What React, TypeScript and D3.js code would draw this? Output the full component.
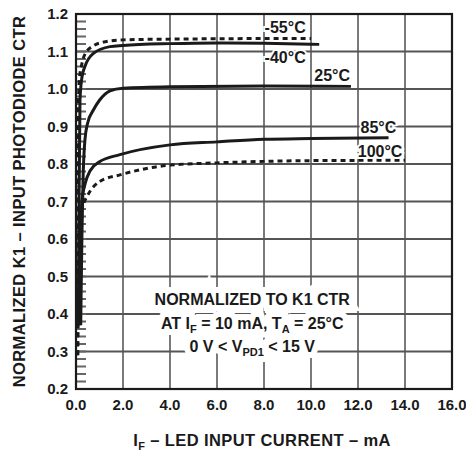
import * as d3 from "d3";

const X_TICKS = [0, 2, 4, 6, 8, 10, 12, 14, 16];
const Y_TICKS = [0.2, 0.3, 0.4, 0.5, 0.6, 0.7, 0.8, 0.9, 1.0, 1.1, 1.2];

// [I_F mA, normalized CTR]
const M55: [number, number][] = [[0.05, 0.29], [0.08, 0.6], [0.1, 0.95], [0.15, 1.03], [0.24, 1.064], [0.4, 1.095], [0.74, 1.115], [1.15, 1.125], [2, 1.131], [4, 1.133], [6, 1.134], [10, 1.135]];
const M40: [number, number][] = [[0.1, 0.37], [0.13, 0.7], [0.17, 0.97], [0.25, 1.03], [0.38, 1.06], [0.74, 1.095], [1.45, 1.113], [2, 1.116], [4, 1.121], [6, 1.123], [8, 1.122], [10.35, 1.119]];
const T25: [number, number][] = [[0.2, 0.37], [0.25, 0.6], [0.3, 0.76], [0.38, 0.864], [0.5, 0.91], [0.74, 0.944], [1, 0.97], [1.45, 0.995], [2, 1.002], [4, 1.006], [8, 1.008], [11.7, 1.007]];
const T85: [number, number][] = [[0.15, 0.37], [0.2, 0.6], [0.25, 0.7], [0.4, 0.75], [0.6, 0.782], [1, 0.806], [1.87, 0.825], [4, 0.851], [6, 0.859], [8, 0.866], [10, 0.868], [13.3, 0.87]];
const T100: [number, number][] = [[0.08, 0.29], [0.12, 0.55], [0.18, 0.66], [0.3, 0.69], [0.5, 0.717], [1, 0.753], [1.87, 0.771], [4, 0.797], [6, 0.803], [8, 0.807], [10, 0.809], [14, 0.81]];

const SERIES = [
  { name: "-55°C", data: M55, dashed: true, lx: 8.9, ly: 33 },
  { name: "-40°C", data: M40, dashed: false, lx: 8.9, ly: 63 },
  { name: "25°C", data: T25, dashed: false, lx: 10.9, ly: 81 },
  { name: "85°C", data: T85, dashed: false, lx: 12.87, ly: 133 },
  { name: "100°C", data: T100, dashed: true, lx: 12.94, ly: 157 },
];

const FONT = "Arial, 'Liberation Sans', sans-serif";
const INK = "#1a1a1a";

const W = 466, H = 453;
const mg = { l: 76, r: 14, t: 14, b: 64 };
const IW = W - mg.l - mg.r, IH = H - mg.t - mg.b;
const x = d3.scaleLinear().domain([0, 16]).range([0, IW]);
const y = d3.scaleLinear().domain([0.2, 1.2]).range([IH, 0]);
const line = d3.line<[number, number]>().x(d => x(d[0])).y(d => y(d[1])).curve(d3.curveMonotoneX);
const MINOR = d3.range(11, 60).map(i => i * 0.02);

const vGrid = X_TICKS.slice(1, -1).map(v => `M${x(v)},0V${IH}`).join("");
const hGrid = Y_TICKS.slice(1, -1).map(v => `M0,${y(v)}H${IW}`).join("");
const minor = MINOR.map(v => `M0,${y(v)}H10`).join("");

export default function App() {
  const sub = (s: string) => <tspan dy={4} fontSize={11}>{s}</tspan>;
  const up = (s: string) => <tspan dy={-4}>{s}</tspan>;
  const cx = x(7.5);

  const note = [
    <>NORMALIZED TO K1 CTR</>,
    <>AT I{sub("F")}{up(" = 10 mA, T")}{sub("A")}{up(" = 25°C")}</>,
    <>0 V &lt; V{sub("PD1")}{up(" < 15 V")}</>,
  ];
  const noteY = [305, 329, 352];

  return (
    <svg width={W} height={H} style={{ position: "absolute", left: 0, top: 0, background: "white" }}
      fontFamily={FONT} fontWeight="bold">
      <g transform={`translate(${mg.l},${mg.t})`}>
        <path d={vGrid} fill="none" stroke="#7a7a7a" strokeWidth={2} />
        <path d={hGrid} fill="none" stroke="#555" strokeWidth={2} />
        <path d={minor} fill="none" stroke="#666" strokeWidth={2} />

        {/* white knock-outs behind the note, then the note itself */}
        <g textAnchor="middle" fontSize={16} fill="white" stroke="white" strokeWidth={12} strokeLinejoin="miter">
          {note.map((n, i) => <text key={"h" + i} x={cx} y={noteY[i] - mg.t}>{n}</text>)}
        </g>
        <g textAnchor="middle" fontSize={16} fill={INK}>
          {note.map((n, i) => <text key={"n" + i} x={cx} y={noteY[i] - mg.t}>{n}</text>)}
        </g>

        {SERIES.map(s => (
          <path key={s.name} d={line(s.data)!} fill="none" stroke={INK} strokeWidth={3}
            strokeDasharray={s.dashed ? "5,4" : undefined} />
        ))}
        <g textAnchor="middle" fontSize={16} fill="white" stroke="white" strokeWidth={4}>
          {SERIES.map(s => <text key={"hl" + s.name} x={x(s.lx)} y={s.ly - mg.t}>{s.name}</text>)}
        </g>
        <g textAnchor="middle" fontSize={16} fill={INK}>
          {SERIES.map(s => <text key={"l" + s.name} x={x(s.lx)} y={s.ly - mg.t}>{s.name}</text>)}
        </g>

        <rect width={IW} height={IH} fill="none" stroke={INK} strokeWidth={2.2} />

        {X_TICKS.map(v => (
          <text key={"tx" + v} x={x(v)} y={IH + 21} textAnchor="middle" fontSize={15} fill={INK}>{v.toFixed(1)}</text>
        ))}
        {Y_TICKS.map(v => (
          <text key={"ty" + v} x={-8} y={y(v)} dy="0.35em" textAnchor="end" fontSize={15} fill={INK}>{v.toFixed(1)}</text>
        ))}
      </g>

      <text x={262} y={446} textAnchor="middle" fontSize={16.5} letterSpacing={0.4} fill={INK}>
        I{sub("F")}{up(" – LED INPUT CURRENT – mA")}
      </text>
      <text transform={`translate(25,${mg.t + IH / 2}) rotate(-90)`} textAnchor="middle" fontSize={16.5} letterSpacing={0.4} fill={INK}>
        NORMALIZED K1 – INPUT PHOTODIODE CTR
      </text>
    </svg>
  );
}
